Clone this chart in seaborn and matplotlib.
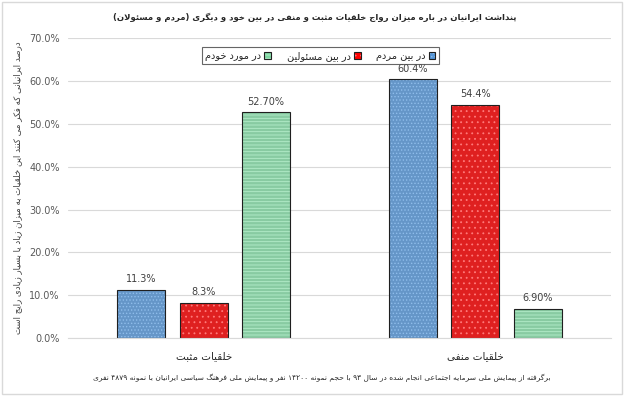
import pandas as pd
import numpy as np
import seaborn as sns
import matplotlib.pyplot as plt
import matplotlib.colors as mcolors
from matplotlib.patches import Rectangle

categories = ["خلقیات مثبت", "خلقیات منفی"]
series_names = ["در بین مردم", "در بین مسئولین", "در مورد خودم"]
people = [11.3, 60.4]
officials = [8.3, 54.4]
myself = [52.7, 6.9]
value_labels = [["11.3%", "60.4%"], ["8.3%", "54.4%"], ["52.70%", "6.90%"]]
yticks = [0, 10, 20, 30, 40, 50, 60, 70]
title = "پنداشت ایرانیان در باره میزان رواج خلقیات مثبت و منفی در بین خود و دیگری (مردم و مسئولان)"
ylabel = "درصد ایرانیانی که فکر می کنند این خلقیات به میزان زیاد یا بسیار زیادی رایج است"
footnote = "برگرفته از پیمایش ملی سرمایه اجتماعی انجام شده در سال ۹۳ با حجم نمونه ۱۴۲۰۰ نفر و پیمایش ملی فرهنگ سیاسی ایرانیان با نمونه ۴۸۷۹ نفری"

# minimal arabic/persian shaping + rtl ordering (no reshaper libs in sandbox)
FORMS = {
    "ا": (0xFE8D, 0xFE8E), "آ": (0xFE81, 0xFE82),
    "ب": (0xFE8F, 0xFE90, 0xFE91, 0xFE92), "پ": (0xFB56, 0xFB57, 0xFB58, 0xFB59),
    "ت": (0xFE95, 0xFE96, 0xFE97, 0xFE98), "ث": (0xFE99, 0xFE9A, 0xFE9B, 0xFE9C),
    "ج": (0xFE9D, 0xFE9E, 0xFE9F, 0xFEA0), "چ": (0xFB7A, 0xFB7B, 0xFB7C, 0xFB7D),
    "ح": (0xFEA1, 0xFEA2, 0xFEA3, 0xFEA4), "خ": (0xFEA5, 0xFEA6, 0xFEA7, 0xFEA8),
    "د": (0xFEA9, 0xFEAA), "ذ": (0xFEAB, 0xFEAC), "ر": (0xFEAD, 0xFEAE),
    "ز": (0xFEAF, 0xFEB0), "ژ": (0xFB8A, 0xFB8B),
    "س": (0xFEB1, 0xFEB2, 0xFEB3, 0xFEB4), "ش": (0xFEB5, 0xFEB6, 0xFEB7, 0xFEB8),
    "ص": (0xFEB9, 0xFEBA, 0xFEBB, 0xFEBC), "ض": (0xFEBD, 0xFEBE, 0xFEBF, 0xFEC0),
    "ط": (0xFEC1, 0xFEC2, 0xFEC3, 0xFEC4), "ظ": (0xFEC5, 0xFEC6, 0xFEC7, 0xFEC8),
    "ع": (0xFEC9, 0xFECA, 0xFECB, 0xFECC), "غ": (0xFECD, 0xFECE, 0xFECF, 0xFED0),
    "ف": (0xFED1, 0xFED2, 0xFED3, 0xFED4), "ق": (0xFED5, 0xFED6, 0xFED7, 0xFED8),
    "ک": (0xFB8E, 0xFB8F, 0xFB90, 0xFB91), "گ": (0xFB92, 0xFB93, 0xFB94, 0xFB95),
    "ل": (0xFEDD, 0xFEDE, 0xFEDF, 0xFEE0), "م": (0xFEE1, 0xFEE2, 0xFEE3, 0xFEE4),
    "ن": (0xFEE5, 0xFEE6, 0xFEE7, 0xFEE8), "و": (0xFEED, 0xFEEE),
    "ه": (0xFEE9, 0xFEEA, 0xFEEB, 0xFEEC), "ی": (0xFBFC, 0xFBFD, 0xFBFE, 0xFBFF),
    "ئ": (0xFE89, 0xFE8A, 0xFE8B, 0xFE8C),
}
LAM_ALEF = {"ا": (0xFEFB, 0xFEFC), "آ": (0xFEF5, 0xFEF6)}


def shape(text):
    out = []
    i = 0
    n = len(text)
    while i < n:
        c = text[i]
        prev = text[i - 1] if i > 0 else None
        join_prev = prev in FORMS and len(FORMS[prev]) == 4
        if c == "ل" and i + 1 < n and text[i + 1] in LAM_ALEF:
            f = LAM_ALEF[text[i + 1]]
            out.append(chr(f[1] if join_prev else f[0]))
            i += 2
            continue
        if c not in FORMS:
            out.append(c)
            i += 1
            continue
        f = FORMS[c]
        nxt = text[i + 1] if i + 1 < n else None
        join_next = nxt in FORMS and len(f) == 4
        if join_prev and join_next:
            k = 3
        elif join_prev:
            k = 1
        elif join_next:
            k = 2
        else:
            k = 0
        out.append(chr(f[k]))
        i += 1
    # visual order: reverse runs, digits stay left-to-right
    runs, cur, cur_digit = [], "", None
    for ch in out:
        d = ch.isdigit()
        if cur and d != cur_digit:
            runs.append((cur, cur_digit))
            cur = ""
        cur += ch
        cur_digit = d
    if cur:
        runs.append((cur, cur_digit))
    mirror = {"(": ")", ")": "("}
    vis = ""
    for r, d in reversed(runs):
        vis += r if d else "".join(mirror.get(ch, ch) for ch in reversed(r))
    return vis


def set_hatch_col(p, col):
    if hasattr(p, "set_hatchcolor"):
        p.set_hatchcolor(col)
    else:
        p._hatch_color = mcolors.to_rgba(col)


sns.set_style("white")
plt.rcParams["font.family"] = ["DejaVu Sans"]
plt.rcParams["hatch.linewidth"] = 0.6

cat_labels = [shape(c) for c in categories]
ser_labels = [shape(s) for s in series_names]
df = pd.DataFrame({
    "cat": cat_labels * 3,
    "series": [ser_labels[0]] * 2 + [ser_labels[1]] * 2 + [ser_labels[2]] * 2,
    "value": people + officials + myself,
})

colors = ["#5596D8", "#FF0000", "#7DD6A0"]
hatches = [".....", "...", "-----"]
hatch_cols = ["#8FBDEB", "#FF7A7A", "#B5EDCB"]

fig = plt.figure(figsize=(6.24, 3.96), dpi=100)
ax = fig.add_axes([0.109, 0.146, 0.870, 0.758])
sns.barplot(data=df, x="cat", y="value", hue="series", hue_order=ser_labels,
            palette=colors, width=0.69, gap=0.23, ax=ax, legend=False)

for j, cont in enumerate(ax.containers):
    for k, bar in enumerate(cont):
        bar.set_hatch(hatches[j])
        bar.set_edgecolor("#1F1F1F")
        bar.set_linewidth(0.8)
        set_hatch_col(bar, hatch_cols[j])
        ax.annotate(value_labels[j][k], (bar.get_x() + bar.get_width() / 2, bar.get_height()),
                    xytext=(0, 4), textcoords="offset points", ha="center", va="bottom",
                    fontsize=7, color="#404040")

ax.set_xlim(-0.5, 1.5)
ax.set_ylim(0, 70)
ax.set_yticks(yticks)
ax.set_yticklabels([f"{t:.1f}%" for t in yticks], fontsize=7, color="#595959")
ax.tick_params(axis="x", labelsize=7.5, colors="#262626", length=0, pad=9)
ax.tick_params(axis="y", length=0, pad=6)
ax.yaxis.grid(True, color="#D9D9D9", linewidth=0.8)
ax.set_axisbelow(True)
for s in ["top", "right", "left"]:
    ax.spines[s].set_visible(False)
ax.spines["bottom"].set_color("#D9D9D9")
ax.set_xlabel("")
ax.set_ylabel(shape(ylabel), fontsize=6.2, color="#404040", labelpad=5)

handles = [Rectangle((0, 0), 1, 1, facecolor=colors[j], edgecolor="#1F1F1F",
                     hatch=hatches[j], linewidth=0.8) for j in (2, 1, 0)]
for h, j in zip(handles, (2, 1, 0)):
    set_hatch_col(h, hatch_cols[j])
leg = ax.legend(handles, [ser_labels[j] for j in (2, 1, 0)], loc="upper center",
                bbox_to_anchor=(0.465, 0.985), ncol=3, markerfirst=False, fontsize=7,
                frameon=True, fancybox=False, edgecolor="#404040", handlelength=0.7,
                handleheight=0.7, handletextpad=0.3, columnspacing=1.6,
                borderpad=0.35)
leg.get_frame().set_linewidth(0.8)

fig.text(0.505, 0.955, shape(title), ha="center", va="center", fontsize=6.1,
         fontweight="bold", color="#262626")
fig.text(0.515, 0.045, shape(footnote), ha="center", va="center", fontsize=5.4,
         color="#262626")
fig.patches.append(Rectangle((0.003, 0.005), 0.994, 0.99, transform=fig.transFigure,
                             fill=False, edgecolor="#D9D9D9", linewidth=1))

fig.savefig("out.png", dpi=100)
